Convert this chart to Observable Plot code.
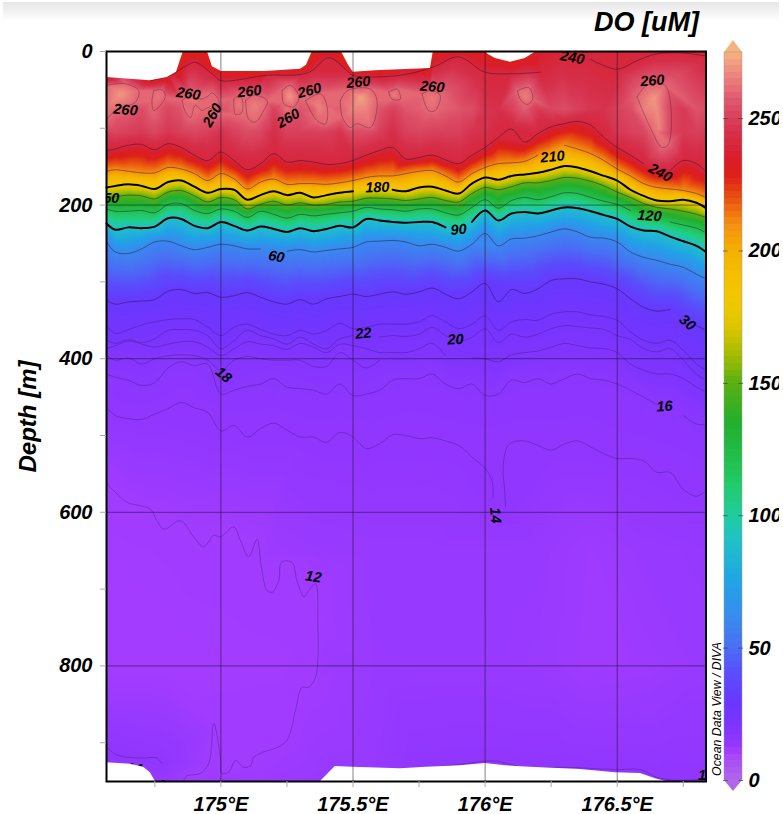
<!DOCTYPE html>
<html>
<head>
<meta charset="utf-8">
<script src="https://cdn.jsdelivr.net/npm/d3@7"></script>
<script src="https://cdn.jsdelivr.net/npm/@observablehq/plot@0.6"></script>
<style>
html,body{margin:0;padding:0;background:#fff}
#page{position:relative;width:779px;height:814px;overflow:hidden;background:#fff}
#band{position:absolute;left:3px;top:2px;width:776px;height:19px;background:linear-gradient(#e6e6e6,#ffffff)}
#page svg{position:absolute;left:0;top:0}
</style>
</head>
<body>
<div id="page"><div id="band"></div></div>
<script>
// Longitudes (deg E) at which the isolines were read
const grid = [174.567,174.6,174.65,174.7,174.75,174.8,174.85,174.9,174.95,175,
175.05,175.1,175.15,175.2,175.25,175.3,175.35,175.4,175.45,175.5,
175.55,175.6,175.65,175.7,175.75,175.8,175.85,175.9,175.95,176,
176.05,176.1,176.15,176.2,176.25,176.3,176.35,176.4,176.45,176.5,
176.55,176.6,176.65,176.7,176.75,176.8,176.836];

// Depth (m) of each DO isoline along that grid
const d240 = [129,127,122,121,128,120,125,135,142,131,
142,154,146,133,144,142,144,147,146,142,
135,129,125,140,138,135,141,146,135,125,
112,101,118,107,98,94,91,96,112,125,
135,146,155,155,142,146,157];
const d210 = [156,154,156,158,158,151,153,159,168,159,
166,179,170,166,173,172,172,173,171,168,
164,162,162,159,156,155,162,170,159,151,
146,145,143,135,129,122,127,133,142,153,
162,172,177,179,181,185,190];
const d180 = [177,175,173,175,179,170,168,176,184,179,
180,193,187,182,187,184,190,187,184,182,
179,179,180,182,177,176,181,185,172,164,
167,162,160,158,154,149,151,156,162,168,
180,188,194,195,193,197,204];
const d150 = [190,189,187,188,192,183,181,188,196,190,
193,205,199,195,200,197,200,199,196,195,
191,191,192,194,192,190,194,196,185,177,
180,176,171,171,168,164,165,169,175,183,
190,198,203,205,208,212,216];
const d120 = [205,208,208,207,210,199,198,207,211,205,
208,216,208,212,217,212,214,212,210,208,
203,205,206,208,205,205,210,213,203,193,
204,194,190,193,189,184,185,190,195,199,
207,214,218,222,226,230,236];
const d90 = [224,232,229,230,228,217,218,227,230,222,
227,233,228,231,235,230,234,231,227,229,
218,220,222,223,222,222,229,231,222,207,
220,211,209,211,207,203,204,208,213,218,
228,233,234,241,247,253,261];
const d60 = [248,261,263,257,248,247,253,258,255,251,
253,257,257,258,260,258,261,259,257,255,
248,247,246,248,253,251,255,260,251,237,
253,244,243,240,235,231,235,242,243,248,
261,268,272,277,281,290,296];
const d30 = [324,329,326,325,323,312,310,315,314,320,
318,314,320,326,329,323,329,322,319,316,
319,316,313,316,313,308,316,322,313,302,
326,310,315,309,298,296,296,300,303,309,
322,333,338,336,348,357,363];
const d24 = [357,367,362,356,352,349,348,349,359,370,
359,355,362,368,370,363,368,363,354,361,
359,355,355,355,352,344,352,361,355,344,
363,352,349,350,342,339,339,343,345,350,
365,376,380,376,389,407,415];
const d22 = [376,380,375,379,374,363,362,363,370,387,
376,363,370,374,381,372,381,387,374,370,
381,372,370,371,368,359,370,377,372,361,
379,368,372,368,361,357,358,360,362,370,
375,387,391,387,402,420,428];
const d20 = [387,383,377,381,385,381,378,378,385,396,
387,378,381,383,388,380,385,392,381,383,
387,392,392,392,387,380,396,398,399,400,
404,395,392,390,385,380,383,386,387,392,
407,415,420,420,426,437,444];
const d18 = [396,402,399,407,400,396,395,396,402,415,
402,397,400,402,402,402,410,410,392,402,
412,402];
const d16 = [420,424,428,435,431,412,404,409,407,446,
441,436,433,426,437,439,441,446,433,448,
446,441,428,426,426,420,433,439,433,448,
446,428,431,426,433,426,420,426,428,433,
441,450,460,465,474,485,486];
const d14a = [463,474,478,479,472,465,457,464,470,494,
487,502,491,484,493,502,502,509,496,502,
517,511,499,500,504,503,507,513,528,543,
559,582];
const lon14a = [...grid.slice(0,30),176.026,176.03];
const lon14b = [176.077,176.073,176.068,176.083,176.102,176.15,176.2,176.25,176.3,176.35,176.4,176.45,176.5,176.55,176.6,176.65,176.7,176.75,176.8,176.836];
const d14b = [593,567,541,515,509,507,513,519,511,507,515,524,530,530,533,548,548,570,579,572];
const lon12 = [174.569,174.607,174.645,174.733,174.758,174.784,174.847,174.897,174.935,174.973,174.998,175.049,175.074,175.105,175.137,175.153,175.175,175.194,175.219,175.229,175.269,175.288,175.314,175.332,175.358,175.367,175.367,175.358,175.332,175.307,175.282,175.25,175.2,175.162,175.124,175.112,175.086,175.055,175.03,175.004,174.998,174.973,174.954,174.922,174.872,174.859];
const d12 = [563,576,587,596,611,622,611,632,645,630,632,619,637,658,635,671,702,704,689,665,665,689,710,702,693,749,793,815,828,828,858,897,908,912,919,930,932,923,938,940,919,875,927,940,943,949];
const lonFloorA = [174.566,174.607,174.695,174.758,174.777];
const dFloorA = [905,916,920,920,927];
const lonFloorB = [175.774,175.906,176,176.045,176.146,176.31,176.499,176.587,176.65,176.726,176.833];
const dFloorB = [933,928,924,924,932,932,935,935,945,949,947];
const lonUp240 = [174.733,174.809,174.872,174.903,174.973,175,175.175,175.301,175.345,175.408,175.478,175.499,175.679,175.805,175.9,176,176.095,176.209,176.285,176.398,176.499,176.575,176.65,176.75,176.836];
const dUp240 = [38,31,18,14,31,38,31,30,25,8,25,31,31,20,7,27,29,27,5,10,23,12,3,2,6];

// Closed 260 uM patches: [lon, depth]
const blob1 = [[174.569,44],[174.638,42],[174.689,51],[174.676,66],[174.607,75],[174.569,88]];
const blob2 = [[174.746,51],[174.777,50],[174.79,59],[174.746,77],[174.739,64],[174.746,51]];
const blob3 = [[174.853,64],[174.866,79],[174.885,86],[174.903,70],[174.929,77],[174.954,73],[174.985,81],[174.992,64],[174.966,54],[174.948,59],[174.922,62],[174.885,57],[174.853,64]];
const blob4 = [[175.049,62],[175.074,57],[175.08,79],[175.055,82],[175.049,62]];
const blob5 = [[175.093,64],[175.105,88],[175.13,92],[175.162,77],[175.175,64],[175.124,57],[175.093,64]];
const blob6 = [[175.232,51],[175.263,44],[175.295,59],[175.276,72],[175.238,68],[175.232,51]];
const blob7 = [[175.32,64],[175.377,55],[175.402,72],[175.396,94],[175.364,90],[175.32,64]];
const blob8 = [[175.452,64],[175.478,51],[175.566,49],[175.591,64],[175.566,99],[175.515,94],[175.49,99],[175.459,85],[175.452,64]];
const blob9 = [[175.635,53],[175.667,49],[175.679,62],[175.648,62],[175.635,53]];
const blob10 = [[175.761,55],[175.793,51],[175.83,57],[175.811,77],[175.786,77],[175.761,55]];
const blob11 = [[176.123,51],[176.165,47],[176.18,62],[176.158,69],[176.133,62],[176.123,51]];
const blob12 = [[176.575,59],[176.613,44],[176.682,44],[176.695,120],[176.67,125],[176.625,99],[176.575,59]];
const blobs = [blob1,blob2,blob3,blob4,blob5,blob6,blob7,blob8,blob9,blob10,blob11,blob12];

// Peak DO read inside the patches: lon, depth, DO
const peakLon = [174.62,174.76,174.9,175.065,175.13,175.26,175.37,175.53,175.655,175.8,176.15,176.64,176.66];
const peakDepth = [55,60,65,70,72,58,72,60,56,62,58,62,100];
const peakDO = [270,263,264,263,265,270,266,272,264,264,265,270,266];

// DO along the ~75 m and ~105 m depth rows (null: the row is below the 240 isoline there)
const midDepth = 75;
const midDO = [262,260,258,254,258,252,256,262,260,255,
260,262,262,250,262,256,258,262,258,266,
266,256,250,256,258,260,258,256,254,246,
245,250,258,248,252,254,250,247,246,250,
254,265,268,252,248,256,254];
const lowDepth = 105;
const lowDO = [250,252,250,248,252,247,250,252,250,246,
250,254,252,244,250,250,250,250,246,254,
254,250,244,250,252,250,250,250,246,245,
null,null,null,null,null,null,null,null,null,247,
250,252,263,252,248,250,248];

// Deep water DO
const deepLon = [174.567,174.8,175,175.2,175.4,175.6,175.8,176,176.2,176.4,176.6,176.836];
const deep650 = [11.6,11.8,12,12.4,12.8,13,13,13,12.9,12.2,12.9,13.2];
const deep800 = [11.4,11.4,11.5,11.6,12.6,12.8,12.9,12.9,12.7,12.1,12.3,12.9];
const deep950 = [13,13,12.5,12.5,13,13.2,13.5,14,14,14,14,14];

// White no-data outlines
const topLon = [174.567,174.733,174.797,174.832,174.858,174.949,174.968,175.002,175.168,175.301,175.324,175.346,175.456,175.483,175.501,175.585,175.793,175.804,176.001,176.012,176.039,176.096,176.152,176.19,176.198,176.836];
const topDepth = [34,38,34,27,0,0,20,26,26,23,18,0,0,18,27,25,22,0,0,4,9,14,9,1,0,0];
const topDO = [230,228,228,228,226,226,228,228,228,228,228,226,226,228,228,228,228,226,228,230,230,230,230,232,235,235];
const botLon = [174.567,174.658,174.707,174.733,174.752,175.377,175.433,175.498,175.679,175.778,175.906,176.001,176.077,176.171,176.361,176.493,176.588,176.645,176.683,176.836];
const botDepth = [926,928,932,939,950.5,950.5,931,932,934,932,930,927,930,932,935,939,940,947,950.5,950.5];

// Contour labels
const labelText = ["260","260","260","260","260","260","260","260","260","240","240","210","180","150","120","90","60","22","20","18","16","30","14","12","14","14","14"];
const labelLon = [174.877,174.639,174.968,175.108,175.255,175.335,175.52,175.8,176.633,176.33,176.663,176.255,175.592,174.57,176.622,175.9,175.21,175.539,175.888,175.01,176.679,176.766,176.039,175.35,174.673,174.79,176.836];
const labelDepth = [55,76,83,52,87,51,40,46,38,8,158,137,177,191,214,232,267,367,375,421,462,353,604,684,934,956,943];
const labelAngle = [8,5,-60,-7,-30,-15,-5,5,-5,10,28,-5,-2,0,4,-5,10,-5,-3,40,-3,40,85,8,5,8,0];

// Axes
const xTicks = [174.75,175,175.25,175.5,175.75,176,176.25,176.5,176.75];
const xMajor = [175,175.5,176,176.5];
const yTicks = [0,100,200,300,400,500,600,700,800,900];
const yMajor = [0,200,400,600,800];
const barTicks = [0,50,100,150,200,250];

// Colour bar stops
const colorStops = [0,8,11.5,12,13,14,16,18,20,22,24,30,40,50,60,75,90,100,110,120,135,150,160,170,180,190,200,210,220,228,235,245,255,262,270,275];
const colorHex = ["#b264ec","#a84cf6","#a33cff","#a03bff","#9739ff","#9136ff","#8b36ff","#8535ff","#7f34ff","#7a34ff","#7434ff","#6838ff","#5a4cfc","#4a6ef4","#3a88f0","#20a4e6","#20c0c8","#20cc9e","#22cc70","#22c050","#22ae2e","#58b012","#a0bc00","#d8c400","#f0c800","#f5c000","#f5b000","#f59010","#e85010","#de2018","#d81e2c","#d6304c","#dc5068","#e87078","#f09880","#f5b47e"];
const colorScale = {type:"linear",domain:colorStops,range:colorHex,clamp:true};

const lines = [
 {level:240,lon:grid,depth:d240,gaps:[176.65]},
 {level:210,lon:grid,depth:d210,gaps:[176.25]},
 {level:180,lon:grid,depth:d180,gaps:[175.55,175.6],thick:true},
 {level:150,lon:grid,depth:d150,gaps:[]},
 {level:120,lon:grid,depth:d120,gaps:[176.6,176.65]},
 {level:90,lon:grid,depth:d90,gaps:[175.9],thick:true},
 {level:60,lon:grid,depth:d60,gaps:[175.2]},
 {level:30,lon:grid,depth:d30,gaps:[176.75]},
 {level:24,lon:grid,depth:d24,gaps:[]},
 {level:22,lon:grid,depth:d22,gaps:[175.55]},
 {level:20,lon:grid,depth:d20,gaps:[175.9]},
 {level:18,lon:grid.slice(0,22),depth:d18,gaps:[]},
 {level:16,lon:grid,depth:d16,gaps:[176.7]},
 {level:14,lon:lon14a,depth:d14a,gaps:[]},
 {level:14,lon:lon14b,depth:d14b,gaps:[]},
 {level:12,lon:lon12,depth:d12,gaps:[]},
 {level:14,lon:lonFloorA,depth:dFloorA,gaps:[]},
 {level:14,lon:lonFloorB,depth:dFloorB,gaps:[]},
 {level:240,lon:lonUp240,depth:dUp240,gaps:[176.285]}
];
const lineRows = lines.flatMap((l,i)=>l.lon.map((x,j)=>({x,d:l.depth[j],v:l.level,id:i,thick:!!l.thick,hide:l.gaps.includes(x)})));
const blobRows = blobs.flatMap((b,i)=>b.map(p=>({x:p[0],d:p[1],v:260,id:100+i})));

const samples = [
 ...lineRows.map(r=>({x:r.x,d:r.d,v:r.v})),
 ...blobRows.map(r=>({x:r.x,d:r.d,v:r.v})),
 ...peakLon.map((x,i)=>({x,d:peakDepth[i],v:peakDO[i]})),
 ...grid.map((x,i)=>({x,d:midDepth,v:midDO[i]})),
 ...grid.map((x,i)=>({x,d:lowDepth,v:lowDO[i]})).filter(r=>r.v!==null),
 ...topLon.map((x,i)=>({x,d:topDepth[i],v:topDO[i]})),
 ...deepLon.map((x,i)=>({x,d:650,v:deep650[i]})),
 ...deepLon.map((x,i)=>({x,d:800,v:deep800[i]})),
 ...deepLon.map((x,i)=>({x,d:950.5,v:deep950[i]})),
 {x:174.567,d:0,v:230}
];
const labels = labelText.map((t,i)=>({t,x:labelLon[i],d:labelDepth[i],a:labelAngle[i]}));
const topRows = topLon.map((x,i)=>({x,d:topDepth[i]}));
const botRows = botLon.map((x,i)=>({x,d:botDepth[i]}));

const baseStyle = {fontFamily:"'Liberation Sans',Arial,sans-serif",fontStyle:"italic",fontWeight:"bold",fontSize:"20px",color:"black",background:"transparent",overflow:"visible"};
const thinInk = "#2a1030";

const main = Plot.plot({
  width:779,height:814,
  marginLeft:106,marginRight:73.5,marginTop:51,marginBottom:33,
  style:baseStyle,
  x:{domain:[174.567,176.836],label:null},
  y:{domain:[0,950.5],reverse:true,label:null},
  color:colorScale,
  marks:[
    Plot.raster(samples,{x:"x",y:"d",fill:"v",interpolate:"barycentric",pixelSize:1}),
    Plot.line(lineRows.filter(r=>!r.thick&&r.v>=30),{x:"x",y:r=>r.hide?NaN:r.d,z:"id",curve:"catmull-rom",stroke:thinInk,strokeWidth:.8,strokeOpacity:.6}),
    Plot.line(lineRows.filter(r=>r.v<30),{x:"x",y:r=>r.hide?NaN:r.d,z:"id",curve:"catmull-rom",stroke:thinInk,strokeWidth:.7,strokeOpacity:.42}),
    Plot.line(blobRows,{x:"x",y:"d",z:"id",curve:"catmull-rom",stroke:thinInk,strokeWidth:.7,strokeOpacity:.45}),
    Plot.line(lineRows.filter(r=>r.thick),{x:"x",y:r=>r.hide?NaN:r.d,z:"id",curve:"catmull-rom",stroke:"#000",strokeWidth:2}),
    Plot.text(labels,{x:"x",y:"d",text:"t",rotate:"a",fontSize:14.5,fill:"#000",clip:true}),
    Plot.areaY(topRows,{x:"x",y1:0,y2:"d",fill:"#fff"}),
    Plot.areaY(botRows,{x:"x",y1:"d",y2:950.5,fill:"#fff"}),
    Plot.ruleX(xMajor,{stroke:"#201020",strokeOpacity:.6,strokeWidth:.9}),
    Plot.ruleY(yMajor.slice(1),{stroke:"#201020",strokeOpacity:.6,strokeWidth:.9}),
    Plot.frame({stroke:"#000",strokeWidth:2}),
    Plot.axisX({ticks:xTicks,anchor:"bottom",tickSize:6,tickPadding:9,stroke:"#aaa",fill:"#000",label:null,
      tickFormat:d=>xMajor.includes(d)?d+"°E":""}),
    Plot.axisY({ticks:yTicks,anchor:"left",tickSize:6,tickPadding:8,stroke:"#aaa",fill:"#000",label:null,
      tickFormat:d=>yMajor.includes(d)?String(d):""}),
    Plot.text(["Depth [m]"],{frameAnchor:"left",dx:-78,rotate:-90,fontSize:24,fill:"#000",textAnchor:"middle"}),
    Plot.text(["DO [uM]"],{frameAnchor:"top-right",dx:-7,dy:-40,fontSize:27,fill:"#000",textAnchor:"end"})
  ]
});

const bandValues = d3.range(0,275,2.5);
const bar = Plot.plot({
  width:779,height:814,
  marginLeft:724,marginRight:37,marginTop:40,marginBottom:23,
  style:baseStyle,
  x:{domain:[0,1],axis:null},
  y:{domain:[-4.15,279.5],axis:null},
  color:colorScale,
  marks:[
    Plot.areaY([{x:0,t:275},{x:.5,t:279.5},{x:1,t:275}],{x:"x",y1:275,y2:"t",fill:"#f5b47e"}),
    Plot.areaY([{x:0,t:0},{x:.5,t:-4.15},{x:1,t:0}],{x:"x",y1:0,y2:"t",fill:"#b264ec"}),
    Plot.rect(bandValues,{x1:0,x2:1,y1:d=>d,y2:d=>d+2.5,fill:d=>d+1.25,shapeRendering:"crispEdges"}),
    Plot.rect([0],{x1:0,x2:1,y1:0,y2:275,fill:"none",stroke:"#999",strokeOpacity:.6,strokeWidth:.8}),
    Plot.ruleY(barTicks,{x1:-.06,x2:.2,stroke:"#333",strokeOpacity:.6}),
    Plot.ruleY(barTicks,{x1:.8,x2:1.06,stroke:"#333",strokeOpacity:.6}),
    Plot.text(barTicks,{x:1,y:d=>d,text:String,dx:6,textAnchor:"start",fontSize:20,fill:"#000"}),
    Plot.text(["Ocean Data View / DIVA"],{x:0,y:27,dx:-7,rotate:-90,fontSize:12.3,fontWeight:"normal",fill:"#000"})
  ]
});
const page = document.getElementById("page");
page.appendChild(main);
page.appendChild(bar);
</script>
</body>
</html>
